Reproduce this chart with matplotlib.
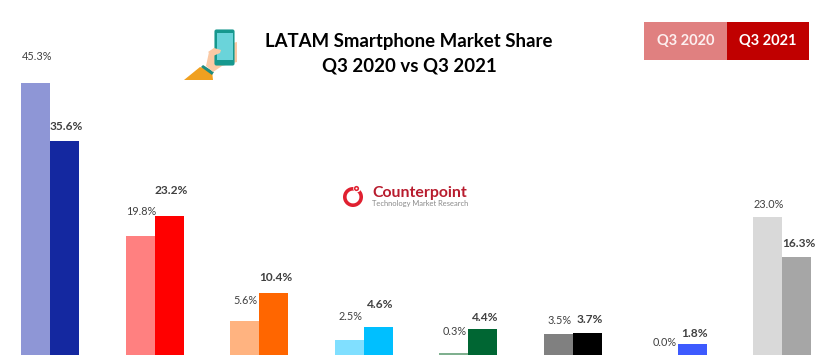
import numpy as np
import matplotlib.pyplot as plt
from matplotlib.patches import Rectangle, FancyBboxPatch, Polygon, Circle, Wedge

W, H = 832, 364

# market share, % (brands are not named in the picture)
q3_2020 = [45.3, 19.8, 5.6, 2.5, 0.3, 3.5, 0.0, 23.0]
q3_2021 = [35.6, 23.2, 10.4, 4.6, 4.4, 3.7, 1.8, 16.3]
colors_2020 = ['#8E96D6', '#FF8080', '#FFB380', '#80DFFF', '#7FB08F', '#808080', '#9DACFF', '#D9D9D9']
colors_2021 = ['#1428A0', '#FF0000', '#FF6600', '#00BFFF', '#006633', '#000000', '#3D5AFE', '#A6A6A6']
title = 'LATAM Smartphone Market Share\nQ3 2020 vs Q3 2021'

# label gap above the bar top, in pixels (uneven in the original)
gap_2020 = [27, 25, 21, 24, 22, 13, 12, 13]
gap_2021 = [15, 25, 15, 23, 11, 13, 11, 14]

plt.rcParams['font.family'] = ['Lato', 'DejaVu Sans']
fig = plt.figure(figsize=(W / 100, H / 100), dpi=100, facecolor='white')

# bars: 6 px per %, baseline at y=355, pair spacing 104.6 px
ax = fig.add_axes([0, 0, 1, 1])
ax.set_xlim(-50 / 104.6, (W - 50) / 104.6)
ax.set_ylim(-9 / 6, 355 / 6)
ax.axis('off')

x = np.arange(len(q3_2020))
bw = 29 / 104.6
ax.bar(x - bw / 2, q3_2020, bw, color=colors_2020, linewidth=0)
ax.bar(x + bw / 2, q3_2021, bw, color=colors_2021, linewidth=0)

for i in x:
    ax.annotate(f'{q3_2020[i]:.1f}%', (i - bw / 2, q3_2020[i]), xytext=(0.8, gap_2020[i] * 0.72),
                textcoords='offset points', ha='center', va='center', fontsize=7.8, color='#404040')
    ax.annotate(f'{q3_2021[i]:.1f}%', (i + bw / 2, q3_2021[i]), xytext=(1.5, gap_2021[i] * 0.72),
                textcoords='offset points', ha='center', va='center', fontsize=8.6, color='#404040',
                fontweight='bold')

# overlay in pixel coordinates for title, legend boxes, icon and logo
ov = fig.add_axes([0, 0, 1, 1])
ov.set_xlim(0, W)
ov.set_ylim(H, 0)
ov.axis('off')
ov.patch.set_alpha(0)

ov.text(409, 53.5, title, ha='center', va='center', fontsize=13.4, fontweight='bold',
        color='black', linespacing=1.5)

ov.add_patch(Rectangle((644, 22), 83, 38, color='#E08080', lw=0))
ov.add_patch(Rectangle((727, 22), 82, 38, color='#C00000', lw=0))
ov.text(685.5, 41, 'Q3 2020', ha='center', va='center', fontsize=10.5, fontweight='bold', color='#FDF0F0')
ov.text(768, 41, 'Q3 2021', ha='center', va='center', fontsize=10.5, fontweight='bold', color='white')

# phone in hand
ov.add_patch(Polygon([[184, 80], [200, 67], [212, 71], [213, 80]], color='#F0A020', lw=0))
ov.add_patch(Polygon([[201, 67], [203, 65], [214, 72], [212, 75]], color='#1E8C80', lw=0))
ov.add_patch(Polygon([[206, 66], [209, 52], [216, 47], [237, 42], [237, 62], [222, 66], [213, 72]],
                     color='#FBC9A4', lw=0))
ov.add_patch(FancyBboxPatch((215, 30), 19, 35, boxstyle='round,pad=0,rounding_size=1.5',
                            fc='#16988E', ec='#16988E', lw=0.8))
ov.add_patch(Rectangle((216.5, 32.5), 16, 27, color='#6AD4DA', lw=0))
ov.add_patch(Polygon([[208, 52], [214, 48], [221, 50], [220, 53], [213, 56]], color='#FBC9A4', lw=0))

# Counterpoint logo
ov.add_patch(Wedge((353, 197), 10, 0, 360, width=3.6, color='#E02030', lw=0))
ov.add_patch(Circle((357, 188.5), 3.8, color='white', lw=0))
ov.add_patch(Circle((356.5, 188.5), 2.6, color='#E02030', lw=0))
ov.add_patch(Circle((356.5, 188.5), 1.0, color='white', lw=0))
ov.text(372, 192.5, 'Counterpoint', ha='left', va='center', fontsize=11.4, fontweight='bold', color='#B81C2E')
ov.text(372, 203.5, 'Technology Market Research', ha='left', va='center', fontsize=5.4, color='#8A8A8A')

fig.savefig('out.png', dpi=100, facecolor='white')
